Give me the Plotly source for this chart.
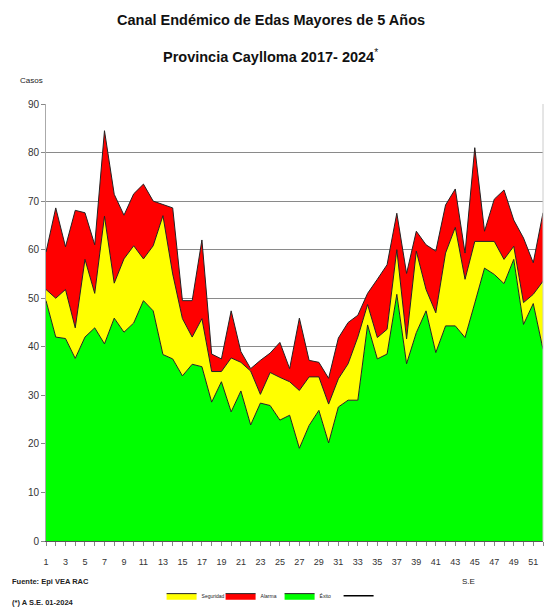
import plotly.graph_objects as go

semanas = list(range(1, 53))
tick_labels = [str(w) for w in range(1, 52, 2)]

exito = [49.5, 42.0, 41.7, 37.6, 42.0, 43.9, 40.6, 45.9, 43.0, 44.9,
         49.5, 47.4, 38.4, 37.5, 34.0, 36.4, 35.9, 28.6, 32.8, 26.6,
         30.9, 23.9, 28.4, 27.9, 24.9, 25.9, 19.1, 23.8, 26.9, 20.2,
         27.6, 29.0, 29.0, 44.5, 37.5, 38.5, 50.8, 36.5, 42.9, 47.4,
         38.8, 44.3, 44.3, 41.9, 49.0, 56.2, 54.9, 53.0, 58.0, 44.6,
         48.9, 39.5]
seguridad = [51.8, 50.0, 51.8, 43.9, 58.0, 51.0, 66.9, 53.1, 58.1, 60.8,
             58.1, 60.8, 67.0, 55.0, 45.8, 42.0, 45.8, 34.9, 34.9, 37.7,
             36.8, 35.0, 30.2, 34.7, 33.7, 32.8, 31.0, 33.8, 33.8, 28.2,
             33.4, 36.5, 42.0, 48.7, 41.9, 43.6, 60.0, 41.6, 59.7, 51.8,
             47.0, 59.3, 64.6, 53.9, 61.7, 61.7, 61.7, 58.0, 60.7, 49.1,
             50.8, 53.5]
alarma = [59.5, 68.6, 60.6, 68.1, 67.6, 61.0, 84.5, 71.4, 67.1, 71.5,
          73.5, 70.0, 69.3, 68.6, 49.5, 49.5, 62.0, 38.5, 37.5, 47.4,
          39.0, 35.5, 37.2, 38.7, 40.9, 35.5, 45.9, 37.2, 36.8, 33.5,
          41.8, 45.0, 46.5, 51.0, 53.9, 56.9, 67.5, 55.1, 63.8, 61.0,
          59.7, 69.2, 72.5, 59.3, 81.0, 63.8, 70.4, 72.3, 66.1, 62.4,
          57.3, 67.6]
casos_2024_sem = [1]
casos_2024 = [None]

FONT = "Liberation Sans, Arial, sans-serif"
OUTLINE = "#222222"

fig = go.Figure()
fig.add_trace(go.Scatter(x=semanas, y=exito, name="Éxito", mode="lines",
                         line=dict(color=OUTLINE, width=1), fill="tozeroy",
                         fillcolor="#00FF00", legendrank=3))
fig.add_trace(go.Scatter(x=semanas, y=seguridad, name="Seguridad", mode="lines",
                         line=dict(color=OUTLINE, width=1), fill="tonexty",
                         fillcolor="#FFFF00", legendrank=1))
fig.add_trace(go.Scatter(x=semanas, y=alarma, name="Alarma", mode="lines",
                         line=dict(color=OUTLINE, width=1), fill="tonexty",
                         fillcolor="#FF0000", legendrank=2))
fig.add_trace(go.Scatter(x=casos_2024_sem, y=casos_2024, name=" ", mode="lines",
                         line=dict(color="black", width=1.5), legendrank=4,
                         showlegend=True))

fig.update_layout(
    width=547, height=614,
    margin=dict(l=46, r=4, t=104, b=71),
    paper_bgcolor="white", plot_bgcolor="white",
    font=dict(family=FONT, color="#222222", size=10),
    showlegend=True,
    legend=dict(orientation="h", x=0.47, xanchor="center", y=-0.125, yanchor="middle",
                font=dict(size=5, family=FONT), itemwidth=30, traceorder="normal",
                entrywidth=14, entrywidthmode="pixels",
                tracegroupgap=0, bgcolor="rgba(0,0,0,0)"),
    xaxis=dict(range=[1, 52], tickvals=list(range(1, 52, 2)), ticktext=tick_labels,
               ticks="outside", ticklen=4, tickcolor="#888888", automargin=False,
               ticklabelstandoff=8,
               minor=dict(dtick=1, tick0=1, ticks="outside", ticklen=4, tickcolor="#888888"),
               showgrid=False, showline=True, linecolor="#555555", linewidth=1,
               zeroline=False, tickfont=dict(size=9, family=FONT, color="#333333")),
    yaxis=dict(range=[0, 90], tickvals=list(range(0, 91, 10)), automargin=False,
               ticks="outside", ticklen=4, tickcolor="#888888",
               showgrid=True, gridcolor="#8a8a8a", gridwidth=1,
               showline=True, linecolor="#aaaaaa", linewidth=1, mirror=False,
               zeroline=False, tickfont=dict(size=10, family=FONT, color="#333333")),
)

# right border
fig.add_shape(type="line", xref="paper", yref="paper", x0=1, x1=1, y0=0, y1=1,
              line=dict(color="#cccccc", width=1))

fig.add_annotation(text="<b>Canal Endémico de Edas Mayores de 5 Años</b>",
                   xref="paper", yref="paper", x=0.452, y=1.0, yshift=84,
                   xanchor="center", yanchor="middle", showarrow=False,
                   font=dict(size=14.5, family=FONT, color="#111111"))
fig.add_annotation(text="<b>Provincia Caylloma 2017- 2024</b><sup>*</sup>",
                   xref="paper", yref="paper", x=0.452, y=1.0, yshift=48,
                   xanchor="center", yanchor="middle", showarrow=False,
                   font=dict(size=14.5, family=FONT, color="#111111"))
fig.add_annotation(text="Casos", xref="paper", yref="paper", x=0, xshift=-28,
                   y=1.0, yshift=24, xanchor="left", yanchor="middle", showarrow=False,
                   font=dict(size=8, family=FONT, color="#222222"))
fig.add_annotation(text="<b>Fuente: Epi VEA RAC</b>", xref="paper", yref="paper",
                   x=0, xshift=-36, y=0, yshift=-40, xanchor="left", yanchor="middle",
                   showarrow=False, font=dict(size=7.5, family=FONT, color="#222222"))
fig.add_annotation(text="<b>(*) A S.E. 01-2024</b>", xref="paper", yref="paper",
                   x=0, xshift=-36, y=0, yshift=-61, xanchor="left", yanchor="middle",
                   showarrow=False, font=dict(size=7.5, family=FONT, color="#222222"))
fig.add_annotation(text="S.E", xref="paper", yref="paper",
                   x=0.85, y=0, yshift=-40, xanchor="center", yanchor="middle",
                   showarrow=False, font=dict(size=8, family=FONT, color="#222222"))

fig.write_html("out.html", config={"displayModeBar": False},
               post_script="document.body.style.margin='0';document.body.style.padding='0';")
